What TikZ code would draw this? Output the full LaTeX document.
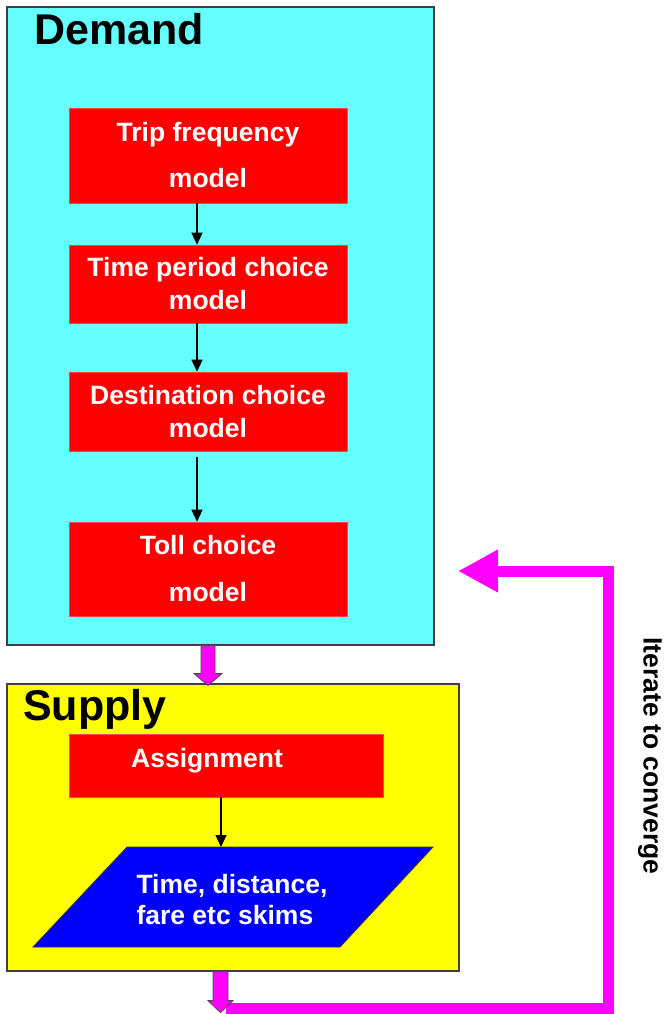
\documentclass[tikz,border=0pt]{standalone}
\usepackage{fontspec}
\setmainfont{Liberation Sans}
\usetikzlibrary{arrows.meta,calc}

\definecolor{demandcyan}{RGB}{102,255,255}
\definecolor{supplyyellow}{RGB}{255,255,0}
\definecolor{modelred}{RGB}{255,0,0}
\definecolor{skimblue}{RGB}{0,0,255}
\definecolor{loopmagenta}{RGB}{255,0,255}

\begin{document}
\begin{tikzpicture}[x=1pt,y=-1pt,
  panel/.style={draw=black!75, line width=1.2pt, inner sep=0pt},
  paneltitle/.style={font=\bfseries\fontsize{43}{48}\selectfont, anchor=base west, inner sep=0pt},
  model/.style={fill=modelred, draw={rgb,255:red,255;green,70;blue,70}, line width=0.6pt,
    text=white, font=\bfseries\fontsize{26.5}{33}\selectfont, align=center,
    inner sep=0pt, minimum width=278pt},
  skimshape/.style={fill=skimblue, draw=black!80, line width=0.8pt},
  flow/.style={-{Triangle[width=11pt,length=12pt]}, line width=1.3pt},
  blockarrow/.style={fill=loopmagenta, draw=black!70, line width=0.8pt, line join=miter},
  loopline/.style={draw=loopmagenta, line width=11pt, line join=miter,
    -{Triangle[width=40pt,length=40pt]}}
]
\useasboundingbox[fill=white] (0,0) rectangle (665,1014);

% panels
\node[panel, fill=demandcyan, minimum width=427pt, minimum height=638pt] (demand) at (220.5,326) {};
\node[panel, fill=supplyyellow, minimum width=452pt, minimum height=287pt] (supply) at (233,827.5) {};
\node[paneltitle] (demandtitle) at (34,45) {Demand};
\node[paneltitle] (supplytitle) at (23,720) {Supply};

% demand models
\node[model, minimum height=95pt, font=\bfseries\fontsize{26.5}{46}\selectfont] (trip) at (208,155.5) {Trip frequency\\model};
\node[model, minimum height=78pt] (period) at (208,284) {Time period choice\\model};
\node[model, minimum height=79pt] (dest) at (208,411.5) {Destination choice\\model};
\node[model, minimum height=94pt, font=\bfseries\fontsize{26.5}{47}\selectfont] (toll) at (208,569) {Toll choice\\model};

\draw[flow] ([xshift=-11pt]trip.south) -- ([xshift=-11pt]period.north);
\draw[flow] ([xshift=-11pt]period.south) -- ([xshift=-11pt]dest.north);
\draw[flow] ([xshift=-11pt,yshift=-6pt]dest.south) -- ([xshift=-11pt]toll.north);

% supply
\node[model, minimum width=314pt, minimum height=63pt, text height=20pt, text depth=17pt] (assign) at (226,765.5) {Assignment\hspace{38pt}};
\draw[skimshape] (33,947) -- (127,847) -- (433,847) -- (340,947) -- cycle;
\coordinate (skimtop) at (221,847);
\node[text=white, font=\bfseries\fontsize{26.5}{31}\selectfont, align=left, inner sep=0pt] (skims) at (232,899.5) {Time, distance,\\fare etc skims};
\draw[flow] ([xshift=-5pt]assign.south) -- (skimtop);

% feedback loop
\coordinate (loopstart) at (226,1008.5);
\coordinate (loopturn) at (608.5,571);
\coordinate (loopend) at (458,571);
\draw[loopline] (loopstart) -| (loopturn) -- (loopend);
\node[rotate=-90, font=\bfseries\fontsize{26.5}{31}\selectfont, inner sep=0pt] (iterate) at (650,756) {Iterate to converge};

% hand-off arrows
\draw[blockarrow] ([xshift=-19.5pt]demand.south) -- ++(0,28) -- ++(-7,0) -- ++(14,12) -- ++(14,-12) -- ++(-7,0) -- ++(0,-28) -- cycle;
\draw[blockarrow] ([xshift=-20pt]supply.south) -- ++(0,29) -- ++(-5,0) -- ++(12.5,12) -- ++(12.5,-12) -- ++(-5,0) -- ++(0,-29) -- cycle;
\end{tikzpicture}
\end{document}
